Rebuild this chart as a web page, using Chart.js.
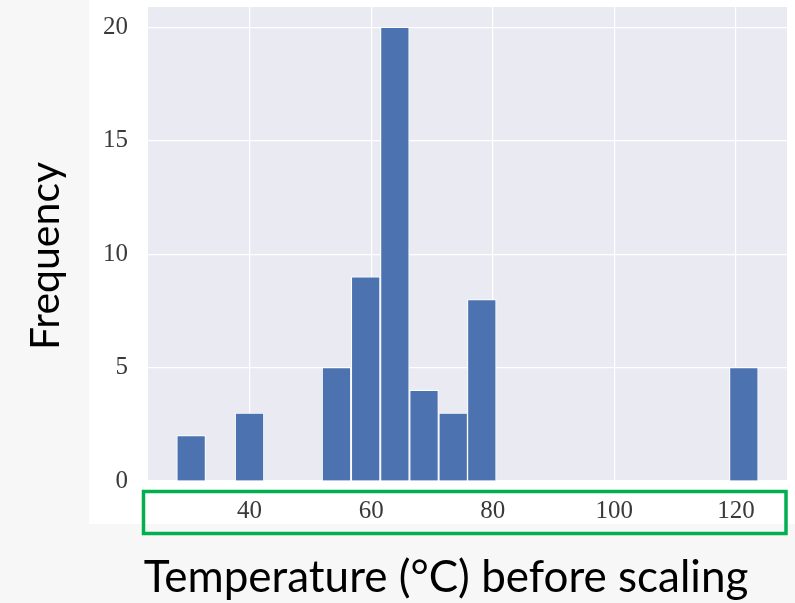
<!DOCTYPE html>
<html>
<head>
<meta charset="utf-8">
<script src="https://cdn.jsdelivr.net/npm/chart.js@4.4.0/dist/chart.umd.min.js"></script>
<style>
  html, body { margin: 0; padding: 0; background: #f7f7f7; }
  #wrap { width: 795px; height: 603px; }
</style>
</head>
<body>
<div id="wrap"><canvas id="myChart" width="795" height="603"></canvas></div>
<script>
// histogram bins (centres, °C) and counts
const binCenters = [30.4, 35.2, 40.0, 44.7, 49.5, 54.3, 59.1, 63.9, 68.7, 73.5,
                    78.2, 83.0, 87.8, 92.6, 97.4, 102.2, 107.0, 111.8, 116.5, 121.3];
const counts = [2, 0, 3, 0, 0, 5, 9, 20, 4, 3, 8, 0, 0, 0, 0, 0, 0, 0, 0, 5];
const xTicks = [40, 60, 80, 100, 120];
const yTicks = [0, 5, 10, 15, 20];

const xTitle = 'Temperature (°C) before scaling';
const yTitle = 'Frequency';

const tickFont = { family: '"Liberation Serif", "DejaVu Serif", serif', size: 25 };

const points = binCenters.map((x, i) => ({ x: x, y: counts[i] }));

// page background, plot background, titles and the green box
const decor = {
  id: 'decor',
  beforeDraw(chart) {
    const { ctx, chartArea: a } = chart;
    ctx.save();
    ctx.fillStyle = '#f7f7f7';
    ctx.fillRect(0, 0, chart.width, chart.height);
    ctx.fillStyle = '#ffffff';
    ctx.fillRect(89, 0, chart.width - 89, 524);
    ctx.fillStyle = '#eaeaf2';
    ctx.fillRect(a.left, a.top, a.right - a.left, a.bottom - a.top);
    ctx.restore();
  },
  afterDraw(chart) {
    const { ctx, chartArea: a } = chart;
    ctx.save();
    ctx.strokeStyle = '#00b050';
    ctx.lineWidth = 3.5;
    ctx.strokeRect(a.left - 4.5, a.bottom + 10.5, a.right - a.left + 3.5, 42);

    ctx.fillStyle = '#000';
    ctx.textAlign = 'center';
    ctx.textBaseline = 'alphabetic';
    ctx.font = '44px Lato, "Open Sans", sans-serif';
    ctx.fillText(xTitle, 446, 592);

    ctx.font = '41px Lato, "Open Sans", sans-serif';
    ctx.translate(59, 256);
    ctx.rotate(-Math.PI / 2);
    ctx.fillText(yTitle, 0, 0);
    ctx.restore();
  }
};

const config = {
  type: 'bar',
  data: {
    datasets: [{
      data: points,
      backgroundColor: '#4c72b0',
      borderColor: '#ffffff',
      borderWidth: 1,
      barPercentage: 1,
      categoryPercentage: 1
    }]
  },
  options: {
    responsive: false,
    animation: false,
    layout: { padding: { top: 7, right: 8, left: 0, bottom: 0 } },
    plugins: {
      legend: { display: false },
      tooltip: { enabled: false }
    },
    scales: {
      x: {
        type: 'linear',
        min: 23.3,
        max: 128.4,
        offset: false,
        grid: { color: '#ffffff', lineWidth: 1.2, drawTicks: false, offset: false },
        border: { display: false },
        afterBuildTicks: (scale) => { scale.ticks = xTicks.map(v => ({ value: v })); },
        afterFit: (scale) => {
          scale.height = 122;
          scale.paddingLeft = 0;
          scale.paddingRight = 0;
        },
        ticks: { font: tickFont, color: '#3a3a3a', padding: 15, maxRotation: 0 }
      },
      y: {
        min: 0,
        max: 20.9,
        grid: { color: '#ffffff', lineWidth: 1.2, drawTicks: false },
        border: { display: false },
        afterBuildTicks: (scale) => { scale.ticks = yTicks.map(v => ({ value: v })); },
        afterFit: (scale) => {
          scale.width = 148;
          scale.paddingTop = 0;
          scale.paddingBottom = 0;
        },
        ticks: { font: tickFont, color: '#3a3a3a', padding: 20 }
      }
    }
  },
  plugins: [decor]
};

const ctx = document.getElementById('myChart').getContext('2d');
let myChart = new Chart(ctx, config);
</script>
</body>
</html>
